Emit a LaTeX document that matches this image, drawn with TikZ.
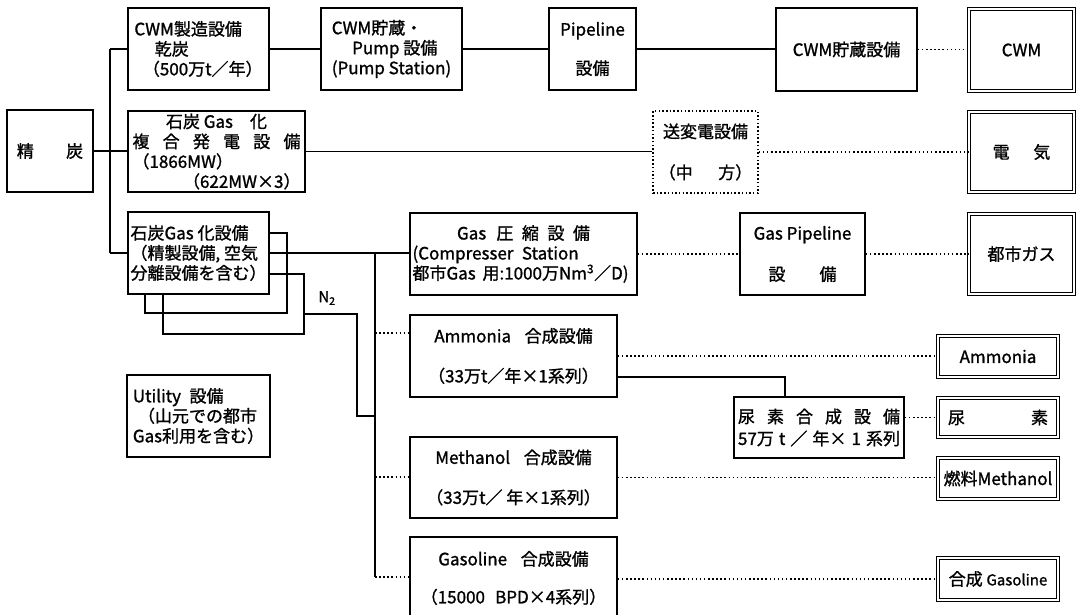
\documentclass[tikz,border=0pt]{standalone}
\usepackage{fontspec}
\setmainfont{Noto Sans CJK JP}[FakeBold=1.2]
\begin{document}
\begin{tikzpicture}[x=1pt,y=-1pt,
  every node/.style={font=\fontsize{17}{20}\selectfont, inner sep=0pt},
  box/.style={draw, line width=1.7pt, align=center},
  lbox/.style={draw, line width=1.7pt, align=left},
  prod/.style={draw, line width=1.1pt, double, double distance=1.6pt, align=center},
  dbox/.style={draw, line width=1.5pt, dash pattern=on 1.5pt off 2.2pt, align=center},
  conn/.style={line width=1.4pt},
  dconn/.style={line width=1.4pt, dash pattern=on 1.5pt off 2.6pt},
]
\useasboundingbox (0,0) rectangle (1081,614);
\clip (0,0) rectangle (1081,614);

% ---- left column
\node[box, minimum width=86, minimum height=82] (seitan) at (50,151) {精\hspace{1.9em}炭};
\node[lbox, minimum width=141, minimum height=82] (cwmmfg) at (198.5,49)
  {CWM製造設備\\\hspace*{1.2em}乾炭\\\hspace*{0.5em}（500万t／年）};
\node[box, minimum width=177, minimum height=81] (igcc) at (216.5,151.5)
  {石炭 Gas\hspace{1em}化\\
   \makebox[168pt][s]{複\hfill 合\hfill 発\hfill 電\hfill 設\hfill 備}\\
   \makebox[168pt][l]{（1866MW）}\\
   \makebox[168pt][r]{（622MW×3）}};
\node[lbox, minimum width=141, minimum height=82] (gasif) at (198.5,253)
  {石炭Gas 化設備\\（精製設備, 空気\\分離設備を含む）};
\node[lbox, minimum width=143, minimum height=82] (util) at (198.5,416)
  {Utility\hspace{0.5em}設備\\\hspace*{0.3em}（山元での都市\\Gas利用を含む）};

% ---- top row
\node[lbox, minimum width=141, minimum height=82] (pump) at (391.5,49)
  {CWM貯蔵・\\\hspace*{1.2em}Pump 設備\\(Pump Station)};
\node[box, minimum width=87, minimum height=82] (pipe) at (592.5,49) {Pipeline\\[19pt]設備};
\node[box, minimum width=141, minimum height=83] (cwmsto) at (846.5,49.5) {CWM貯蔵設備};
\node[prod, minimum width=105, minimum height=82] (cwm) at (1021.5,50) {CWM};

% ---- second row
\node[dbox, minimum width=105, minimum height=82] (trans) at (705.5,152) {送変電設備\\[21pt]（中\hspace{1.5em}方）};
\node[prod, minimum width=105, minimum height=80] (elec) at (1021.5,152) {電\hspace{1.4em}気};

% ---- third row
\node[box, minimum width=227, minimum height=82] (comp) at (523.5,254)
  {\makebox[222pt][c]{Gas\hspace{0.6em}圧\hspace{0.5em}縮\hspace{0.5em}設\hspace{0.5em}備}\\
   \makebox[222pt][l]{(Compresser\hspace{0.5em}Station}\\
   \makebox[222pt][l]{都市Gas\hspace{0.4em}用:1000万Nm\textsuperscript{3}／D)}};
\node[box, minimum width=125, minimum height=82] (gpipe) at (802.5,254) {Gas Pipeline\\[21pt]設\hspace{2em}備};
\node[prod, minimum width=105, minimum height=80] (city) at (1021.5,254) {都市ガス};

% ---- synthesis plants
\node[box, minimum width=207, minimum height=82] (amm) at (513.5,356)
  {Ammonia\hspace{0.8em}合成設備\\[20pt]（33万t／年×1系列）};
\node[box, minimum width=207, minimum height=81] (meth) at (513.5,477.5)
  {Methanol\hspace{0.8em}合成設備\\[20pt]（33万t／ 年×1系列）};
\node[box, minimum width=207, minimum height=82] (gaso) at (513.5,578)
  {Gasoline\hspace{0.8em}合成設備\\[18pt]（15000\hspace{0.6em}BPD×4系列）};
\node[box, minimum width=170, minimum height=61] (urea) at (819,427.5)
  {\makebox[162pt][s]{尿\hfill 素\hfill 合\hfill 成\hfill 設\hfill 備}\\[2pt]
   \makebox[162pt][s]{57万\hfill t\hfill ／\hfill 年×\hfill 1\hfill 系列}};

% ---- products
\node[prod, minimum width=120, minimum height=41] (pamm) at (998,356.5) {Ammonia};
\node[prod, minimum width=120, minimum height=39] (purea) at (998,417.5) {\makebox[100pt][s]{尿\hfill 素}};
\node[prod, minimum width=120, minimum height=41] (pmeth) at (998,478.5) {燃料Methanol};
\node[prod, minimum width=120, minimum height=42] (pgaso) at (998,579) {合成 {\fontsize{15}{20}\selectfont Gasoline}};

\node[font=\fontsize{15}{18}\selectfont] (n2) at (327,298) {N\textsubscript{2}};

% ---- connectors
\coordinate (t1) at (110,49);
\coordinate (t2) at (110,253);
\draw[conn] (t1) -- (t2);
\draw[conn] (t1) -- (cwmmfg.west);
\draw[conn] (seitan.east) -- (seitan.east -| igcc.west);
\draw[conn] (t2) -- (t2 -| gasif.west);

\draw[conn] (cwmmfg.east) -- (pump.west);
\draw[conn] (pump.east) -- (pipe.west);
\draw[conn] (pipe.east) -- (pipe.east -| cwmsto.west);
\draw[dconn] (cwmsto.east) -- (cwmsto.east -| cwm.west);

\draw[conn] (igcc.east) -- (igcc.east -| trans.west);
\draw[dconn] (trans.east) -- (trans.east -| elec.west);

\draw[conn] (gasif.east) -- (gasif.east -| comp.west);
\draw[dconn] (comp.east) -- (comp.east -| gpipe.west);
\draw[dconn] (gpipe.east) -- (gpipe.east -| city.west);

% recycle loops and N2
\draw[conn] ([yshift=20pt]gasif.east) -| (287,313) -| ([xshift=-53.5pt]gasif.south);
\draw[conn] ([yshift=-21pt]gasif.east) -| (304,334) -| ([xshift=-35.5pt]gasif.south);
\coordinate (n2s) at (304,314);
\coordinate (jn) at (375,416);
\draw[conn] (n2s) -| (357,416) -- (jn);

% synthesis trunk
\coordinate (j) at (375,253);
\coordinate (ja) at (375,333);
\coordinate (jm) at (375,477);
\coordinate (jb) at (375,577);
\draw[conn] (j) -- (jb);
\draw[dconn] (ja) -- (ja -| amm.west);
\draw[dconn] (jm) -- (jm -| meth.west);
\draw[dconn] (jb) -- (jb -| gaso.west);

\draw[dconn] (amm.east) -- (amm.east -| pamm.west);
\draw[conn] ([yshift=-21pt]amm.east) -| ([xshift=-34pt]urea.north);
\draw[dconn] (purea.west -| urea.east) -- (purea.west);
\draw[dconn] (meth.east) -- (meth.east -| pmeth.west);
\draw[dconn] (gaso.east |- pgaso.west) -- (pgaso.west);
\end{tikzpicture}
\end{document}
